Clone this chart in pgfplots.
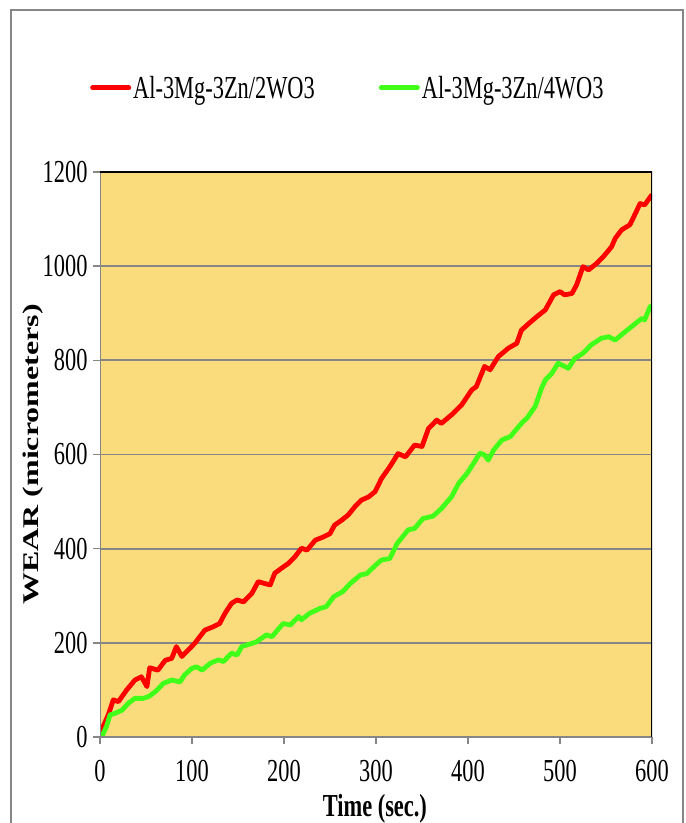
\documentclass[border=0pt]{standalone}
\usepackage{fontspec}
\setmainfont{Liberation Serif}[FakeStretch=0.7]
\newfontfamily\ylfont{Liberation Serif}
\usepackage{graphicx}
\usepackage{pgfplots}
\pgfplotsset{compat=1.18}

\definecolor{bg}{RGB}{250,220,125}
\definecolor{axgray}{RGB}{134,134,134}
\definecolor{lred}{RGB}{255,0,0}
\definecolor{lgreen}{RGB}{64,255,24}

\newcommand{\chartfont}{\fontsize{32}{36}\selectfont}

\begin{document}
\begin{tikzpicture}[x=1pt,y=1pt]
\useasboundingbox (0,0) rectangle (686,823);
\draw[axgray, line width=1.2pt] (11,-30) rectangle (683,813);
\begin{axis}[
    at={(100pt,86pt)}, anchor=south west,
    scale only axis, width=552pt, height=565pt,
    xmin=0, xmax=600, ymin=0, ymax=1200,
    xtick={0,100,...,600}, ytick={0,200,...,1200},
    xtick pos=bottom, ytick pos=left,
    tick align=outside, major tick length=7pt,
    tick style={axgray, line width=1.5pt},
    axis line style={draw=none},
    axis background/.style={fill=bg},
    ymajorgrids, grid style={axgray, line width=1.7pt},
    ticklabel style={font=\chartfont},
    /pgf/number format/assume math mode=true,
    /pgf/number format/1000 sep={},
    yticklabel style={xshift=-2pt},
    xticklabel style={yshift=-13pt},
    xlabel={\bfseries Time (sec.)},
    xlabel style={at={(axis description cs:0.498,0)}, anchor=center, yshift=-72pt, font=\chartfont},
    ylabel={\scalebox{1}[0.7]{\ylfont\bfseries\chartfont WEAR (micrometers)}},
    ylabel style={at={(axis description cs:-0.121,0.5)}, anchor=center},
    legend style={at={(axis description cs:0.449,1.149)}, anchor=center,
      draw=none, fill=none, legend columns=2, font=\chartfont,
      /tikz/every even column/.append style={column sep=62pt}},
    legend image code/.code={\draw[#1, line width=5pt, line cap=round] (0pt,0pt) -- (36pt,0pt);},
  ]
  \addplot[lred, line width=4.8pt, line join=round] coordinates {
    (0,0) (4,25) (9,47) (14.5,79) (20,75) (29,100) (38,121) (45,128) (51,107)
    (54,147) (63,142) (71,163) (78,167) (83,192) (89,171) (96,185) (103,199)
    (114,227) (123,234) (130,241) (136,263) (143,284) (149,291) (156,287)
    (165,305) (172,330) (179,326) (185,323) (190,348) (197,358) (205,369)
    (212,383) (219,401) (225,397) (234,418) (243,425) (250,432) (255,450)
    (263,461) (270,472) (277,489) (284,503) (292,510) (299,521) (306,549)
    (315,574) (324,602) (332,595) (342,620) (350,617) (357,655) (366,673)
    (371,666) (382,684) (393,705) (404,737) (409,744) (418,787) (424,780)
    (433,808) (444,826) (453,836) (458,864) (466,878) (475,893) (484,907)
    (493,939) (500,946) (505,939) (513,942) (518,960) (525,999) (531,992)
    (540,1006) (547,1020) (556,1041) (560,1059) (567,1077) (576,1088)
    (582,1112) (587,1133) (592,1130) (600,1152)
  };
  \addlegendentry{Al-3Mg-3Zn/2WO3}
  \addplot[lgreen, line width=4.8pt, line join=round] coordinates {
    (0,0) (2,1) (7,22) (11,47) (16,50) (24,57) (31,72) (38,82) (47,82) (53,86)
    (60,96) (69,114) (78,121) (87,117) (92,132) (100,146) (105,149) (111,142)
    (120,157) (129,164) (134,160) (143,178) (149,174) (154,192) (159,195)
    (170,202) (181,217) (187,213) (199,241) (207,238) (216,256) (219,249)
    (228,263) (239,273) (246,277) (254,298) (264,309) (272,326) (283,344)
    (290,347) (299,364) (306,376) (315,379) (323,411) (335,440) (342,443)
    (351,464) (362,469) (371,485) (382,510) (390,539) (399,560) (406,581)
    (413,603) (418,599) (422,588) (428,610) (437,631) (446,638) (455,659)
    (460,670) (464,677) (473,702) (480,741) (484,758) (491,772) (498,794)
    (509,783) (516,804) (525,815) (534,833) (545,847) (553,850) (560,843)
    (571,861) (580,875) (589,889) (592,886) (598,914) (600,916)
  };
  \addlegendentry{Al-3Mg-3Zn/4WO3}
  \draw[axgray, line width=1.5pt] (rel axis cs:0,1) -- (rel axis cs:0,0) -- (rel axis cs:1,0);
  \draw[black, line width=1.5pt] (rel axis cs:0,1) -- (rel axis cs:1,1) -- (rel axis cs:1,0);
\end{axis}
\end{tikzpicture}
\end{document}
